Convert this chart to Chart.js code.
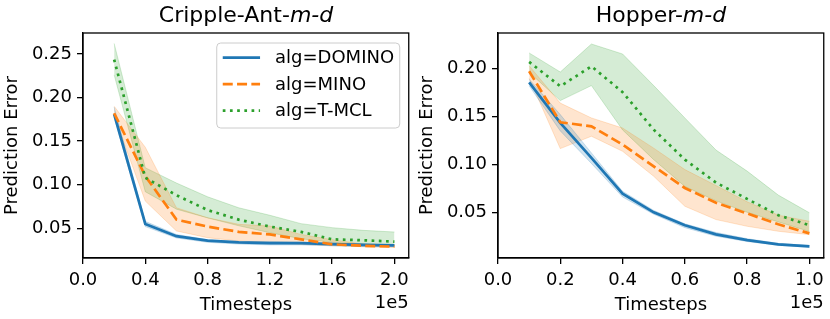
<!DOCTYPE html>
<html lang="en">
<head>
<meta charset="UTF-8">
<title>Prediction error vs timesteps</title>
<script src="https://cdn.jsdelivr.net/npm/chart.js"></script>
<style>
  body { margin: 0; background: #fff; font-family: "DejaVu Sans", sans-serif; }
  .panel { position: absolute; top: 0; width: 415px; height: 319px; }
  .panel canvas { position: absolute; left: 0; top: 0; }
  .title {
    position: absolute; top: 0; left: 83px; width: 326px;
    text-align: center; font-size: 22px; line-height: 30px; color: #000;
  }
</style>
</head>
<body>
<div class="panel" style="left:0">
  <canvas id="antChart" width="415" height="319"></canvas>
  <div class="title">Cripple-Ant-<i>m-d</i></div>
</div>
<div class="panel" style="left:415px">
  <canvas id="hopChart" width="415" height="319"></canvas>
  <div class="title">Hopper-<i>m-d</i></div>
</div>
<script>
// ---- data ----
const algNames = ['alg=DOMINO', 'alg=MINO', 'alg=T-MCL'];

// Cripple-Ant-m-d
const antSteps = [20000, 40000, 60000, 80000, 100000, 120000, 140000, 160000, 180000, 200000];
const antDomino     = [0.181, 0.055, 0.041, 0.036, 0.034, 0.033, 0.033, 0.032, 0.031, 0.0305];
const antDominoLow  = [0.177, 0.052, 0.039, 0.034, 0.032, 0.031, 0.031, 0.030, 0.029, 0.029];
const antDominoHigh = [0.189, 0.058, 0.043, 0.037, 0.035, 0.035, 0.034, 0.033, 0.032, 0.031];
const antMino       = [0.182, 0.110, 0.060, 0.052, 0.046, 0.043, 0.0374, 0.0317, 0.030, 0.029];
const antMinoLow    = [0.1786, 0.0813, 0.047, 0.0393, 0.0355, 0.0336, 0.0317, 0.030, 0.029, 0.028];
const antMinoHigh   = [0.190, 0.143, 0.0736, 0.0622, 0.0546, 0.0527, 0.043, 0.037, 0.032, 0.0305];
const antTmcl       = [0.2435, 0.108, 0.088, 0.071, 0.060, 0.052, 0.046, 0.0374, 0.0363, 0.0348];
const antTmclLow    = [0.226, 0.092, 0.072, 0.062, 0.053, 0.045, 0.038, 0.034, 0.032, 0.030];
const antTmclHigh   = [0.262, 0.1195, 0.102, 0.0862, 0.0736, 0.065, 0.0554, 0.0508, 0.0477, 0.0458];
const antXTicks = [0, 40000, 80000, 120000, 160000, 200000];
const antYTicks = [0.05, 0.10, 0.15, 0.20, 0.25];

// Hopper-m-d
const hopSteps = [10000, 20000, 30000, 40000, 50000, 60000, 70000, 80000, 90000, 100000];
const hopDomino     = [0.1857, 0.1433, 0.1068, 0.0695, 0.050, 0.0365, 0.027, 0.021, 0.0165, 0.0145];
const hopDominoLow  = [0.182, 0.135, 0.101, 0.066, 0.048, 0.034, 0.025, 0.0195, 0.0155, 0.0135];
const hopDominoHigh = [0.189, 0.152, 0.112, 0.072, 0.052, 0.038, 0.029, 0.0225, 0.0175, 0.0155];
const hopMino       = [0.1972, 0.144, 0.1398, 0.1207, 0.098, 0.0754, 0.060, 0.0488, 0.0375, 0.028];
const hopMinoLow    = [0.190, 0.1165, 0.1294, 0.1137, 0.0876, 0.0563, 0.0424, 0.0354, 0.0302, 0.0267];
const hopMinoHigh   = [0.203, 0.164, 0.1485, 0.138, 0.117, 0.0946, 0.078, 0.061, 0.047, 0.0406];
const hopTmcl       = [0.207, 0.1816, 0.2024, 0.1755, 0.1363, 0.105, 0.081, 0.064, 0.047, 0.0365];
const hopTmclLow    = [0.196, 0.1666, 0.1823, 0.136, 0.105, 0.077, 0.062, 0.050, 0.040, 0.030];
const hopTmclHigh   = [0.2164, 0.1965, 0.2257, 0.2153, 0.1823, 0.1485, 0.115, 0.093, 0.068, 0.0495];
const hopXTicks = [0, 20000, 40000, 60000, 80000, 100000];
const hopYTicks = [0.05, 0.10, 0.15, 0.20];

// ---- styling ----
const FONT = { family: '"DejaVu Sans", sans-serif', size: 18 };
const COLORS = ['31,119,180', '255,127,14', '44,160,44'];
const DASHES = [[], [10, 4.3], [2.7, 4.5]];

Chart.defaults.color = '#000';
Chart.defaults.font.family = FONT.family;

function pts(xs, ys) {
  return xs.map((x, i) => ({ x: x, y: ys[i] }));
}

function lineSet(k, xs, ys) {
  return {
    label: algNames[k],
    data: pts(xs, ys),
    borderColor: 'rgb(' + COLORS[k] + ')',
    borderWidth: 2.7,
    borderDash: DASHES[k],
    borderCapStyle: 'butt',
    pointRadius: 0,
    tension: 0,
    fill: false,
    order: 2 - k
  };
}

function bandSets(k, xs, lo, hi) {
  const c = COLORS[k];
  return [
    { data: pts(xs, hi), borderColor: 'rgba(' + c + ',0.2)', borderWidth: 1,
      pointRadius: 0, tension: 0, fill: false, order: 10 },
    { data: pts(xs, lo), borderColor: 'rgba(' + c + ',0.2)', borderWidth: 1,
      backgroundColor: 'rgba(' + c + ',0.2)', pointRadius: 0, tension: 0,
      fill: '-1', order: 10 }
  ];
}

// axes box and the "1e5" offset text
const framePlugin = {
  id: 'frame',
  afterDatasetsDraw(chart) {
    const { ctx, chartArea: a } = chart;
    ctx.save();
    ctx.strokeStyle = '#000';
    ctx.lineWidth = 1.3;
    ctx.strokeRect(a.left, a.top, a.right - a.left, a.bottom - a.top);
    ctx.font = FONT.size + 'px ' + FONT.family;
    ctx.fillStyle = '#000';
    ctx.textAlign = 'right';
    ctx.textBaseline = 'middle';
    ctx.fillText('1e5', a.right, 303);
    ctx.restore();
  }
};

// legend inside the axes, upper right
const legendPlugin = {
  id: 'algLegend',
  afterDraw(chart) {
    const { ctx, chartArea: a } = chart;
    const w = 183, h = 85;
    const x0 = a.right - 9 - w, y0 = a.top + 10;
    ctx.save();
    ctx.beginPath();
    ctx.roundRect(x0, y0, w, h, 4);
    ctx.fillStyle = 'rgba(255,255,255,0.8)';
    ctx.fill();
    ctx.strokeStyle = '#cccccc';
    ctx.lineWidth = 1;
    ctx.stroke();
    ctx.font = FONT.size + 'px ' + FONT.family;
    ctx.textAlign = 'left';
    ctx.textBaseline = 'middle';
    algNames.forEach((name, k) => {
      const y = y0 + 14.6 + k * 26.5;
      ctx.beginPath();
      ctx.setLineDash(DASHES[k]);
      ctx.lineCap = 'butt';
      ctx.lineWidth = 2.7;
      ctx.strokeStyle = 'rgb(' + COLORS[k] + ')';
      ctx.moveTo(x0 + 6, y);
      ctx.lineTo(x0 + 43.3, y);
      ctx.stroke();
      ctx.setLineDash([]);
      ctx.fillStyle = '#000';
      ctx.fillText(name, x0 + 58.3, y + 1);
    });
    ctx.restore();
  }
};

function makeChart(id, steps, series, xMax, yMin, yMax, xTicks, yTicks, withLegend) {
  const datasets = [];
  series.forEach((s, k) => datasets.push(lineSet(k, steps, s[0])));
  series.forEach((s, k) => bandSets(k, steps, s[1], s[2]).forEach(d => datasets.push(d)));

  const gridOpts = { drawOnChartArea: false, drawTicks: true, tickLength: 6, color: '#000', lineWidth: 1.3 };
  const borderOpts = { display: true, color: '#000', width: 1.3 };

  new Chart(document.getElementById(id), {
    type: 'line',
    data: { datasets: datasets },
    options: {
      responsive: false,
      animation: false,
      devicePixelRatio: 1,
      layout: { padding: { left: 0, right: 6, top: 33, bottom: 0 } },
      plugins: { legend: { display: false }, tooltip: { enabled: false } },
      scales: {
        x: {
          type: 'linear', min: 0, max: xMax,
          afterBuildTicks: s => { s.ticks = xTicks.map(v => ({ value: v })); },
          afterFit: s => { s.height = 61; },
          ticks: { font: FONT, padding: 6, maxRotation: 0, autoSkip: false,
                   callback: v => (v / 1e5).toFixed(1) },
          grid: gridOpts, border: borderOpts,
          title: { display: true, text: 'Timesteps', font: FONT, padding: { top: 0, bottom: 3 } }
        },
        y: {
          type: 'linear', min: yMin, max: yMax,
          afterBuildTicks: s => { s.ticks = yTicks.map(v => ({ value: v })); },
          afterFit: s => { s.width = 83; },
          ticks: { font: FONT, padding: 5, callback: v => v.toFixed(2) },
          grid: gridOpts, border: borderOpts,
          title: { display: true, text: 'Prediction Error', font: FONT, padding: { top: 2, bottom: 0 } }
        }
      }
    },
    plugins: withLegend ? [framePlugin, legendPlugin] : [framePlugin]
  });
}

makeChart('antChart', antSteps, [
  [antDomino, antDominoLow, antDominoHigh],
  [antMino, antMinoLow, antMinoHigh],
  [antTmcl, antTmclLow, antTmclHigh]
], 209200, 0.016, 0.274, antXTicks, antYTicks, true);

makeChart('hopChart', hopSteps, [
  [hopDomino, hopDominoLow, hopDominoHigh],
  [hopMino, hopMinoLow, hopMinoHigh],
  [hopTmcl, hopTmclLow, hopTmclHigh]
], 104600, 0.0023, 0.2372, hopXTicks, hopYTicks, false);
</script>
</body>
</html>
